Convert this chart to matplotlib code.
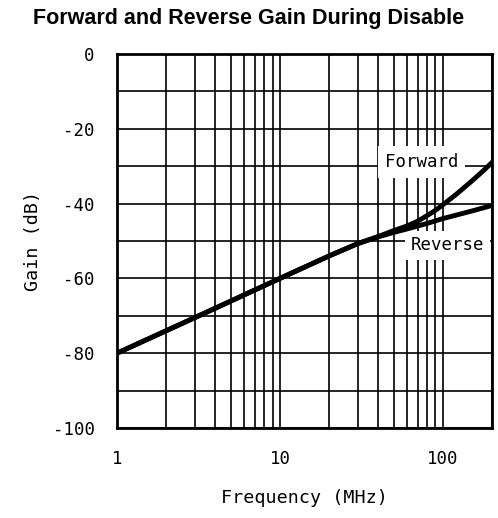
import numpy as np
import matplotlib
matplotlib.use('Agg')
from matplotlib import pyplot as plt
from matplotlib.ticker import FixedLocator, NullFormatter

# data
rev_freq = [1, 3, 10, 20, 30, 35, 40, 50, 60, 70, 80, 100, 150, 200]
reverse_db = [-80, -70.5, -60, -54, -50.7, -49.7, -48.9, -47.7, -46.8, -46, -45.3,
              -44, -42, -40.5]
fwd_freq = [1, 3, 10, 20, 30, 35, 40, 50, 60, 70, 80, 90, 100, 120, 150, 175, 200]
forward_db = [-80, -70.5, -60, -54, -50.7, -49.7, -48.8, -47.2, -46, -44.7, -43.2,
              -41.8, -40.3, -37.6, -34, -31.4, -29]

x_ticks = [1, 10, 100]
y_ticks = [0, -20, -40, -60, -80, -100]

mono = 'DejaVu Sans Mono'

fig = plt.figure(figsize=(4.98, 5.18), dpi=100)
ax = fig.add_axes([117/498., 90/518., 375/498., 374/518.])

ax.set_xscale('log')
ax.set_xlim(1, 200)
ax.set_ylim(-100, 0)

# grid: every decade subdivision and every 10 dB
ax.xaxis.set_major_locator(FixedLocator(x_ticks))
minor = [m*d for d in (1, 10, 100) for m in range(2, 10) if m*d <= 200]
ax.xaxis.set_minor_locator(FixedLocator(minor))
ax.xaxis.set_minor_formatter(NullFormatter())
ax.set_xticklabels([str(v) for v in x_ticks])
ax.yaxis.set_major_locator(FixedLocator(y_ticks))
ax.yaxis.set_minor_locator(FixedLocator(list(range(-90, 0, 20))))
ax.set_yticklabels(['0' if v == 0 else '-' + str(abs(v)) for v in y_ticks])

ax.grid(True, which='both', color='black', linewidth=1.2, zorder=1)
ax.set_axisbelow(True)
ax.tick_params(which='both', length=0, pad=16, labelsize=12.5)
for lab in ax.get_xticklabels() + ax.get_yticklabels():
    lab.set_family(mono)
for sp in ax.spines.values():
    sp.set_linewidth(2)

ax.plot(rev_freq, reverse_db, color='black', lw=3.5, zorder=4)
ax.plot(fwd_freq, forward_db, color='black', lw=3.5, zorder=4)

ax.text(74, -28.8, 'Forward', family=mono, fontsize=12.5, ha='center', va='center',
        zorder=3, bbox=dict(facecolor='white', edgecolor='none', pad=5))
ax.text(107, -51.2, 'Reverse', family=mono, fontsize=12.5, ha='center', va='center',
        zorder=3, bbox=dict(facecolor='white', edgecolor='none', pad=4))

ax.set_xlabel('Frequency (MHz)', family=mono, fontsize=13.2, labelpad=15)
ax.set_ylabel('Gain (dB)', family=mono, fontsize=13.2, labelpad=8)

fig.suptitle('Forward and Reverse Gain During Disable', family='Liberation Sans',
             fontweight='bold', fontsize=15.5, x=0.5, y=0.985)

fig.savefig('out.png', dpi=100)
